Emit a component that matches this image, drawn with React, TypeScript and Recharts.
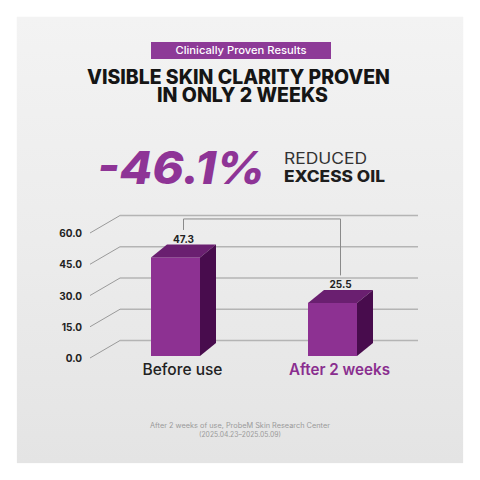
import React from "react";
import { BarChart, Bar, XAxis, YAxis, CartesianGrid } from "recharts";

const categories = ["Before use", "After 2 weeks"];
const values = [47.3, 25.5];
const yTicks = [0, 15, 30, 45, 60];
const tickLabels = ["0.0", "15.0", "30.0", "45.0", "60.0"];

const data = categories.map((c, i) => ({ name: c, value: values[i] }));

const FONT = "Inter, 'Open Sans', sans-serif";
const DX = 16;
const DY = 13;
const GRID_SHIFT = 15.5;

const geom: Record<number, { cx: number; ly: number }> = {};

const Bar3D = (props: any) => {
  const { x, y, width, height, index, value } = props;
  const front = "#8d3192";
  const top = "#6a1f70";
  const side = "#480c4d";
  const cx = x + width / 2 + DX / 2;
  const ly = y - 18.5;
  geom[index] = { cx, ly };
  let bracket: any = null;
  if (index === 1 && geom[0]) {
    const g0 = geom[0];
    const topY = Math.min(g0.ly, ly) - 20;
    bracket = (
      <polyline
        points={`${g0.cx},${g0.ly - 9} ${g0.cx},${topY} ${cx},${topY} ${cx},${ly - 9}`}
        fill="none"
        stroke="#8a8a8a"
        strokeWidth={1}
      />
    );
  }
  return (
    <g>
      <rect x={x} y={y} width={width} height={height} fill={front} />
      <polygon
        points={`${x},${y} ${x + DX},${y - DY} ${x + width + DX},${y - DY} ${x + width},${y}`}
        fill={top}
      />
      <polygon
        points={`${x + width},${y} ${x + width + DX},${y - DY} ${x + width + DX},${y + height - DY} ${x + width},${y + height}`}
        fill={side}
      />
      <text
        x={cx}
        y={ly}
        textAnchor="middle"
        dominantBaseline="central"
        fontFamily={FONT}
        fontWeight={700}
        fontSize={10}
        fill="#222"
      >
        {value}
      </text>
      {bracket}
    </g>
  );
};

const YTick = (props: any) => {
  const { x, y, payload } = props;
  const idx = yTicks.indexOf(payload.value);
  return (
    <g>
      <text
        x={x - 15}
        y={y + 2}
        textAnchor="end"
        dominantBaseline="central"
        fontFamily={FONT}
        fontWeight={700}
        fontSize={10}
        fill="#222"
      >
        {tickLabels[idx]}
      </text>
      <line x1={x - 7} y1={y + 2} x2={x + 23} y2={y - GRID_SHIFT} stroke="#9a9a9a" strokeWidth={1} />
    </g>
  );
};

const XTick = (props: any) => {
  const { x, y, payload, index } = props;
  const isAfter = index === 1;
  return (
    <text
      x={x + 7}
      y={y + 19}
      textAnchor="middle"
      fontFamily={FONT}
      fontWeight={isAfter ? 600 : 500}
      fontSize={15.5}
      fill={isAfter ? "#8a2e8f" : "#222"}
      textLength={isAfter ? 101 : 80}
      lengthAdjust="spacingAndGlyphs"
    >
      {payload.value}
    </text>
  );
};

const GridLine = (props: any) => {
  const { x1, x2, y1 } = props;
  return (
    <line
      key={props.key}
      x1={x1 + 23}
      x2={x2 + 7}
      y1={y1 - GRID_SHIFT}
      y2={y1 - GRID_SHIFT}
      stroke="#b4b4b4"
      strokeWidth={1.5}
    />
  );
};

export default function App() {
  return (
    <div style={{ position: "absolute", left: 0, top: 0, width: 480, height: 480, background: "#ffffff", overflow: "hidden" }}>
      <div
        style={{
          position: "absolute",
          left: 17,
          top: 17,
          width: 446,
          height: 446,
          background: "linear-gradient(180deg, #f3f3f3 0%, #ececec 50%, #e4e4e4 100%)",
          boxShadow: "0 0 1px rgba(0,0,0,0.08)",
        }}
      />
      <svg width={480} height={480} style={{ position: "absolute", left: 0, top: 0 }}>
        <rect x={151} y={42} width={180} height={17} fill="#8d3a97" />
        <text x={241} y={54.3} textAnchor="middle" fontFamily={FONT} fontWeight={500} fontSize={10.5} fill="#ffffff" textLength={131} lengthAdjust="spacingAndGlyphs">
          Clinically Proven Results
        </text>
        <text x={87} y={83.5} fontFamily={FONT} fontWeight={800} fontSize={19.5} fill="#151515" textLength={303} lengthAdjust="spacingAndGlyphs">
          VISIBLE SKIN CLARITY PROVEN
        </text>
        <text x={157} y={101.5} fontFamily={FONT} fontWeight={800} fontSize={19.5} fill="#151515" textLength={171} lengthAdjust="spacingAndGlyphs">
          IN ONLY 2 WEEKS
        </text>
        <text x={97} y={183.5} fontFamily={FONT} fontWeight={800} fontStyle="italic" fontSize={45} fill="#8e3496" textLength={168} lengthAdjust="spacingAndGlyphs">
          -46.1%
        </text>
        <text x={284} y={164} fontFamily={FONT} fontWeight={400} fontSize={15.5} fill="#333" textLength={83} lengthAdjust="spacingAndGlyphs">
          REDUCED
        </text>
        <text x={284} y={182.3} fontFamily={FONT} fontWeight={800} fontSize={15.5} fill="#1e1e1e" textLength={101} lengthAdjust="spacingAndGlyphs">
          EXCESS OIL
        </text>
        <text x={240} y={428} textAnchor="middle" fontFamily={FONT} fontSize={7} fill="#9a9a9a" textLength={180} lengthAdjust="spacingAndGlyphs">
          After 2 weeks of use, ProbeM Skin Research Center
        </text>
        <text x={240} y={437} textAnchor="middle" fontFamily={FONT} fontSize={7} fill="#9a9a9a" textLength={82} lengthAdjust="spacingAndGlyphs">
          (2025.04.23–2025.05.09)
        </text>
      </svg>
      <div style={{ position: "absolute", left: 0, top: 0 }}>
        <BarChart width={480} height={480} data={data} margin={{ top: 231, right: 69, bottom: 104, left: 0 }}>
          <CartesianGrid vertical={false} horizontal={GridLine as any} />
          <XAxis dataKey="name" height={20} axisLine={false} tickLine={false} tickSize={0} tickMargin={0} tick={XTick} interval={0} />
          <YAxis
            domain={[0, 60]}
            ticks={yTicks}
            width={97}
            axisLine={false}
            tickLine={false}
            tickSize={0}
            tickMargin={0}
            tick={YTick}
            interval={0}
          />
          <Bar dataKey="value" barSize={49} shape={Bar3D} isAnimationActive={false} />
        </BarChart>
      </div>
    </div>
  );
}
